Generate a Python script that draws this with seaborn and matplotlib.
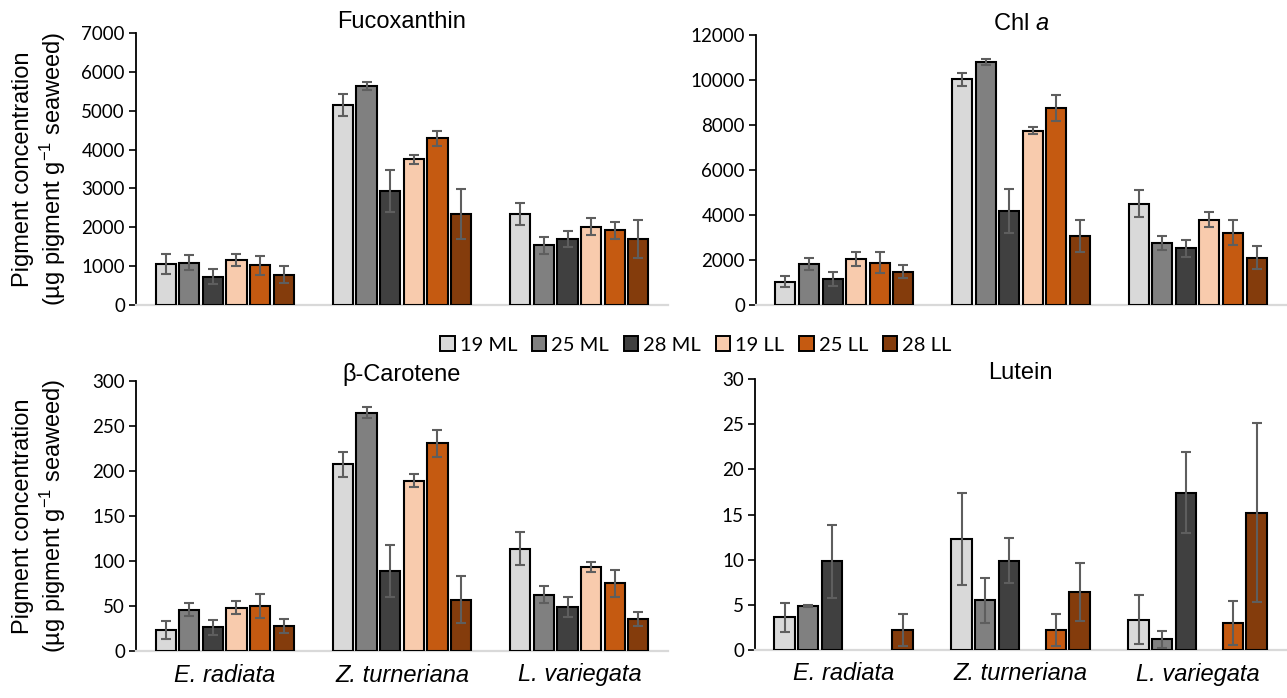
import numpy as np
import pandas as pd
import matplotlib
matplotlib.use("Agg")
import matplotlib.pyplot as plt
import seaborn as sns

# ---------------- data ----------------
species = ["E. radiata", "Z. turneriana", "L. variegata"]
treatments = ["19 ML", "25 ML", "28 ML", "19 LL", "25 LL", "28 LL"]
colors = ["#d9d9d9", "#808080", "#404040", "#f8cbad", "#c55a11", "#843c0c"]

# rows = treatments, columns = species (E. radiata, Z. turneriana, L. variegata)
fuco_mean = [[1060, 5140, 2340], [1090, 5640, 1540], [730, 2930, 1705],
             [1160, 3750, 2020], [1020, 4290, 1920], [775, 2340, 1705]]
fuco_err = [[260, 280, 290], [200, 100, 220], [190, 540, 200],
            [155, 120, 230], [240, 200, 220], [220, 650, 490]]

chla_mean = [[1040, 10030, 4500], [1810, 10815, 2755], [1170, 4180, 2520],
             [2030, 7750, 3790], [1880, 8740, 3215], [1480, 3070, 2100]]
chla_err = [[250, 300, 590], [270, 130, 330], [310, 960, 370],
            [310, 150, 340], [460, 580, 550], [300, 700, 520]]

bcar_mean = [[22.9, 207.4, 113.7], [45.8, 264.6, 62.4], [26.2, 88.9, 49.1],
             [48.0, 189.3, 93.4], [49.8, 230.6, 75.3], [27.7, 57.2, 35.4]]
bcar_err = [[10, 14, 18.5], [7, 6, 9.6], [8.5, 29, 11.4],
            [7.4, 7, 5.5], [13, 15, 14.8], [8, 26, 8]]

lut_mean = [[3.6, 12.3, 3.35], [4.9, 5.5, 1.2], [9.8, 9.9, 17.4],
            [None, None, None], [None, 2.2, 3.0], [2.2, 6.4, 15.2]]
lut_err = [[1.6, 5.1, 2.7], [0.1, 2.5, 0.95], [4.0, 2.5, 4.5],
           [None, None, None], [None, 1.8, 2.45], [1.8, 3.2, 9.9]]

titles = ["Fucoxanthin", "Chl $\\mathit{a}$", "\u03b2-Carotene", "Lutein"]
ylabel = "Pigment concentration\n(\u00b5g pigment g$^{-1}$ seaweed)"

# ---------------- style ----------------
sns.set_style("white")
plt.rcParams["font.family"] = ["Liberation Sans", "DejaVu Sans"]
plt.rcParams["mathtext.fontset"] = "custom"
plt.rcParams["mathtext.rm"] = "Liberation Sans"
plt.rcParams["mathtext.it"] = "Liberation Sans:italic"
plt.rcParams["mathtext.default"] = "regular"
for key in ["text.color", "axes.labelcolor", "xtick.color", "ytick.color",
            "axes.titlecolor"]:
    plt.rcParams[key] = "black"

TICK_FONT = "Lato"
palette = dict(zip(treatments, colors))


def build(mean, err):
    rows = []
    for t, ml, el in zip(treatments, mean, err):
        for s, m, e in zip(species, ml, el):
            rows.append(dict(species=s, treatment=t,
                             value=0.0 if m is None else float(m),
                             err=0.0 if e is None else float(e),
                             present=m is not None))
    return pd.DataFrame(rows)


def panel(ax, df, title, ymax, ystep, show_x, legend=False):
    sns.barplot(data=df, x="species", y="value", hue="treatment",
                order=species, hue_order=treatments, palette=palette,
                saturation=1, width=0.8, gap=0.15, edgecolor="black",
                linewidth=1.5, errorbar=None, ax=ax, legend=legend, zorder=3)
    for cont, t in zip(ax.containers, treatments):
        sub = df[df.treatment == t].set_index("species").loc[species]
        xs, ys, es = [], [], []
        for patch, (_, row) in zip(cont.patches, sub.iterrows()):
            if not row.present:
                patch.set_visible(False)
                continue
            xs.append(patch.get_x() + patch.get_width() / 2)
            ys.append(row.value)
            es.append(row.err)
        ax.errorbar(xs, ys, yerr=es, fmt="none", ecolor="#5e5e5e",
                    elinewidth=1.5, capsize=3.5, capthick=1.5, zorder=5)
    ax.set_ylim(0, ymax)
    ax.set_yticks(np.arange(0, ymax + ystep / 2, ystep))
    ax.set_xlim(-0.5, 2.5)
    for s in ["top", "right"]:
        ax.spines[s].set_visible(False)
    ax.spines["left"].set_color("black")
    ax.spines["left"].set_linewidth(1.3)
    ax.spines["bottom"].set_color("#d9d9d9")
    ax.spines["bottom"].set_linewidth(1.6)
    ax.tick_params(axis="y", direction="out", length=5, width=1.2,
                   colors="black", pad=3, left=True)
    for lab in ax.get_yticklabels():
        lab.set_fontfamily(TICK_FONT)
        lab.set_fontsize(13.5)
    ax.tick_params(axis="x", length=0, pad=9, labelcolor="black")
    if show_x:
        ax.set_xticks(range(len(species)))
        ax.set_xticklabels(species)
        for lab in ax.get_xticklabels():
            lab.set_fontfamily("Liberation Sans")
            lab.set_fontstyle("italic")
            lab.set_fontsize(17)
    else:
        ax.set_xticklabels([])
    ax.set_xlabel("")
    ax.set_ylabel("")
    ax.set_title(title, fontsize=17, pad=0, color="black")


W, H = 1287, 698
fig = plt.figure(figsize=(W / 100, H / 100), dpi=100)


def rect(l, r, t, b):
    return [l / W, 1 - b / H, (r - l) / W, (b - t) / H]


ax_tl = fig.add_axes(rect(136, 668, 33, 305))
ax_tr = fig.add_axes(rect(756, 1286, 35, 305))
ax_bl = fig.add_axes(rect(136, 668, 381, 651))
ax_br = fig.add_axes(rect(755, 1286, 379, 650))

panel(ax_tl, build(fuco_mean, fuco_err), titles[0], 7000, 1000, False, legend=True)
panel(ax_tr, build(chla_mean, chla_err), titles[1], 12000, 2000, False)
panel(ax_bl, build(bcar_mean, bcar_err), titles[2], 300, 50, True)
panel(ax_br, build(lut_mean, lut_err), titles[3], 30, 5, True)

for ax in (ax_tl, ax_bl):
    ax.set_ylabel(ylabel, fontsize=17, ha="center", va="center",
                  multialignment="center", linespacing=1.15, color="black")
    ax.yaxis.set_label_coords(-0.18, 0.5)

handles = list(ax_tl.legend_.legend_handles)
ax_tl.legend_.remove()
for h in handles:
    h.set_edgecolor("black")
    h.set_linewidth(1.4)
leg = fig.legend(handles, treatments, loc="center",
                 bbox_to_anchor=(696 / W, 1 - 345 / H), ncol=6, frameon=False,
                 prop=dict(family=TICK_FONT, size=14.5), handlelength=0.7,
                 handleheight=0.7, handletextpad=0.25, columnspacing=0.75)
for txt in leg.get_texts():
    txt.set_color("black")

fig.savefig("out.png", dpi=100)
